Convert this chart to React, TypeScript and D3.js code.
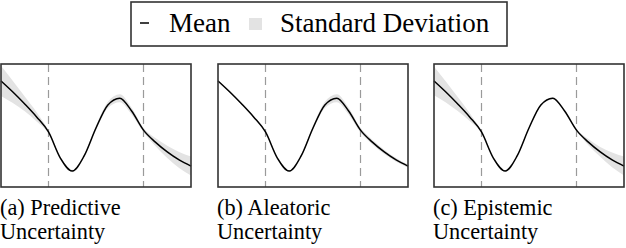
import * as d3 from "d3";

// sample positions across each panel (0..1), dashed lines at 0.25 / 0.75
const xs = [0, 0.0625, 0.125, 0.1875, 0.25, 0.3125, 0.375, 0.4375, 0.5, 0.5625, 0.625, 0.6875, 0.75, 0.8125, 0.875, 0.9375, 1];
const meanValues = [1.45, 1.09, 0.70, 0.28, -0.21, -1.06, -1.48, -0.99, -0.08, 0.67, 0.89, 0.47, -0.15, -0.54, -0.86, -1.12, -1.32];
const predictiveStd = [0.49, 0.36, 0.24, 0.15, 0.05, 0.04, 0.04, 0.04, 0.07, 0.10, 0.13, 0.11, 0.07, 0.13, 0.20, 0.26, 0.31];
const aleatoricStd = [0.03, 0.03, 0.03, 0.03, 0.03, 0.03, 0.03, 0.04, 0.06, 0.10, 0.13, 0.11, 0.08, 0.08, 0.07, 0.06, 0.05];
const epistemicStd = [0.47, 0.34, 0.23, 0.13, 0.03, 0.02, 0.02, 0.02, 0.02, 0.03, 0.03, 0.03, 0.03, 0.10, 0.16, 0.24, 0.31];
const boundaries = [0.25, 0.75];
const captions = [
  ["(a) Predictive", "Uncertainty"],
  ["(b) Aleatoric", "Uncertainty"],
  ["(c) Epistemic", "Uncertainty"],
];
const stds = [predictiveStd, aleatoricStd, epistemicStd];

const W = 626, H = 248;
const panelLeft = [1, 218, 434];
const panelW = 190, top = 64, bottom = 187;
const font = "'Liberation Serif', 'Times New Roman', serif";

function Panel({ x0, std, caption }: { x0: number; std: number[]; caption: string[] }) {
  const x = d3.scaleLinear().domain([0, 1]).range([x0, x0 + panelW]);
  const y = d3.scaleLinear().domain([-2, 2]).range([bottom, top]);
  const pts = xs.map((v, i) => ({ x: v, m: meanValues[i], s: std[i] }));
  const line = d3.line<any>().x(d => x(d.x)).y(d => y(d.m)).curve(d3.curveMonotoneX);
  const area = d3.area<any>().x(d => x(d.x)).y0(d => y(d.m - d.s)).y1(d => y(d.m + d.s)).curve(d3.curveMonotoneX);
  return (
    <g>
      <path d={area(pts) || ""} fill="#e3e3e3" />
      {boundaries.map(b => (
        <line key={b} x1={x(b)} x2={x(b)} y1={top} y2={bottom} stroke="#9a9a9a" strokeWidth={1.2} strokeDasharray="8,5" />
      ))}
      <path d={line(pts) || ""} fill="none" stroke="#000" strokeWidth={1.5} />
      <rect x={x0} y={top} width={panelW} height={bottom - top} fill="none" stroke="#333" strokeWidth={1.6} />
      <text x={x0 - 1} y={214.5} fontFamily={font} fontSize={22.3} fill="#000">{caption[0]}</text>
      <text x={x0 - 1} y={239} fontFamily={font} fontSize={22.3} fill="#000">{caption[1]}</text>
    </g>
  );
}

export default function App() {
  return (
    <svg width={W} height={H} style={{ position: "absolute", left: 0, top: 0, background: "#fff" }}>
      <rect x={131} y={2} width={376} height={44} fill="#fff" stroke="#333" strokeWidth={1.6} />
      <line x1={140} x2={149} y1={23} y2={23} stroke="#000" strokeWidth={1.5} />
      <text x={169} y={32} fontFamily={font} fontSize={27} fill="#000">Mean</text>
      <rect x={249} y={18} width={13} height={12} fill="#e3e3e3" />
      <text x={280} y={32} fontFamily={font} fontSize={27} fill="#000">Standard Deviation</text>
      {panelLeft.map((x0, i) => (
        <Panel key={i} x0={x0} std={stds[i]} caption={captions[i]} />
      ))}
    </svg>
  );
}
